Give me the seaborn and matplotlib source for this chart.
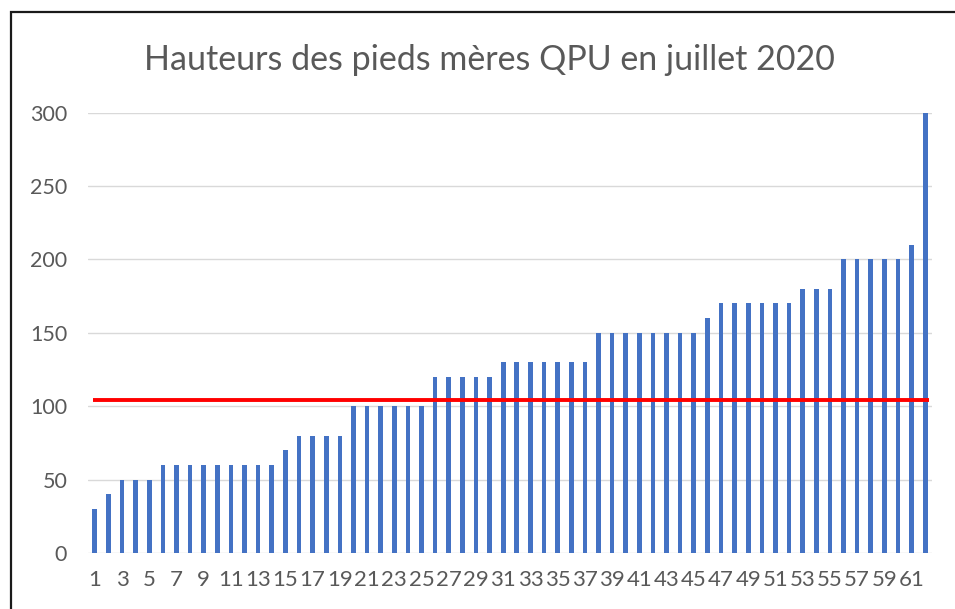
import matplotlib
matplotlib.use("Agg")
import matplotlib.pyplot as plt
import matplotlib.patches as mpatches
import seaborn as sns
import pandas as pd

# ---- data ----
plant_ids = [str(i) for i in range(1, 63)]
heights = ([30, 40] + [50] * 3 + [60] * 9 + [70] + [80] * 4 + [100] * 6 +
           [120] * 5 + [130] * 7 + [150] * 8 + [160] + [170] * 6 + [180] * 3 +
           [200] * 5 + [210] + [300])
reference_height = 104
title = "Hauteurs des pieds mères QPU en juillet 2020"
y_ticks = [0, 50, 100, 150, 200, 250, 300]

df = pd.DataFrame({"pied": plant_ids, "hauteur": heights})

sns.set_theme(style="white")
plt.rcParams["font.family"] = ["Lato", "DejaVu Sans"]

W, H = 955, 609
fig = plt.figure(figsize=(W / 100, H / 100), dpi=100)
left, right, bottom, top = 88, 932, 553, 112.7
ax = fig.add_axes([left / W, (H - bottom) / H, (right - left) / W, (bottom - top) / H])

sns.barplot(data=df, x="pied", y="hauteur", order=plant_ids, color="#4472C4",
            saturation=1, width=0.34, linewidth=0, edgecolor="none", ax=ax, zorder=3)

ax.hlines(reference_height, -0.15, len(plant_ids) - 1 + 0.3, color="#FF0000",
          linewidth=2.8, zorder=4)

ax.set_ylim(y_ticks[0], y_ticks[-1])
ax.set_xlim(-0.5, len(plant_ids) - 0.5)
ax.set_yticks(y_ticks)
ax.set_yticklabels([str(v) for v in y_ticks])
ax.set_xticks(range(0, len(plant_ids), 2))
ax.set_xticklabels(plant_ids[::2])
ax.set_xlabel("")
ax.set_ylabel("")
ax.yaxis.grid(True, color="#D9D9D9", linewidth=1.0, zorder=0)
ax.xaxis.grid(False)
for s in ax.spines.values():
    s.set_visible(False)
ax.tick_params(axis="x", length=0, pad=12, labelsize=16, labelcolor="#595959")
ax.tick_params(axis="y", length=0, pad=15, labelsize=15.5, labelcolor="#595959")

fig.text(489 / W, 1 - 60 / H, title, ha="center", va="center", fontsize=24.5,
         color="#595959")

rect = mpatches.Rectangle((10.5 / W, -0.2), 1.2, (H - 12.5) / H + 0.2,
                          transform=fig.transFigure, fill=False,
                          edgecolor="#1a1a1a", linewidth=1.6)
fig.patches.append(rect)

fig.savefig("out.png", dpi=100, facecolor="white")
